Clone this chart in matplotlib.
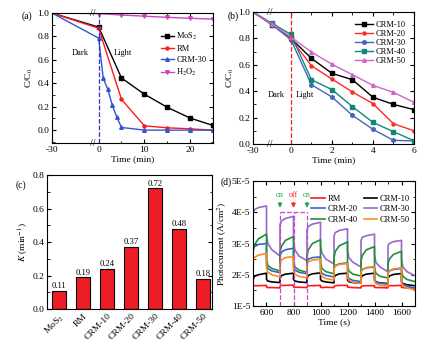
import numpy as np
import matplotlib
matplotlib.use("Agg")
import matplotlib.pyplot as plt
import matplotlib.transforms as mtransforms
from matplotlib.ticker import MultipleLocator, FixedLocator, FuncFormatter

plt.rcParams['font.family'] = ['Liberation Serif', 'DejaVu Serif']
plt.rcParams['mathtext.fontset'] = 'stix'
plt.rcParams['font.size'] = 6.8
plt.rcParams['axes.linewidth'] = 0.8
plt.rcParams['xtick.direction'] = 'in'
plt.rcParams['ytick.direction'] = 'in'
plt.rcParams['xtick.top'] = True
plt.rcParams['ytick.right'] = True
plt.rcParams['xtick.major.size'] = 3
plt.rcParams['ytick.major.size'] = 3
plt.rcParams['xtick.minor.size'] = 1.8
plt.rcParams['ytick.minor.size'] = 1.8
plt.rcParams['xtick.major.pad'] = 2
plt.rcParams['ytick.major.pad'] = 2

# ---- (a) degradation, single catalysts ----
t_a = [-30, 0, 5, 10, 15, 20, 25]
t_a_crm30 = [-30, 0, 1, 2, 3, 4, 5, 10, 15, 20, 25]
mos2_a = [1.0, 0.88, 0.445, 0.307, 0.195, 0.103, 0.04]
rm_a = [1.0, 0.87, 0.263, 0.037, 0.02, 0.011, 0.0]
crm30_a = [1.0, 0.786, 0.443, 0.349, 0.211, 0.109, 0.023, 0.0, 0.0, 0.0, 0.0]
h2o2_a = [1.0, 0.995, 0.983, 0.973, 0.963, 0.955, 0.948]

# ---- (b) degradation, CRM series ----
t_b = [-30, -15, 0, 1, 2, 3, 4, 5, 6]
crm10_b = [1.0, 0.905, 0.80, 0.649, 0.535, 0.487, 0.354, 0.30, 0.26]
crm20_b = [1.0, 0.905, 0.795, 0.593, 0.492, 0.394, 0.306, 0.154, 0.10]
crm30_b = [1.0, 0.905, 0.79, 0.449, 0.356, 0.217, 0.111, 0.028, 0.023]
crm40_b = [1.0, 0.915, 0.83, 0.487, 0.412, 0.283, 0.164, 0.093, 0.025]
crm50_b = [1.0, 0.91, 0.81, 0.697, 0.604, 0.525, 0.444, 0.391, 0.316]

# ---- (c) rate constants ----
samples = ['MoS$_2$', 'RM', 'CRM-10', 'CRM-20', 'CRM-30', 'CRM-40', 'CRM-50']
k_vals = [0.11, 0.19, 0.24, 0.37, 0.72, 0.48, 0.18]

# ---- (d) photocurrent (units of 1E-5 A/cm2) ----
cycle_starts = [500, 700, 900, 1100, 1300, 1500]
offsets = [0, 10, 40, 100, 100, 110, 140, 200]
pc_rm = [[1.63, 1.65, 1.65, 1.66, 1.60, 1.59, 1.59, 1.58],
         [1.64, 1.66, 1.66, 1.67, 1.61, 1.60, 1.60, 1.59],
         [1.63, 1.65, 1.65, 1.66, 1.60, 1.59, 1.60, 1.59],
         [1.63, 1.65, 1.66, 1.66, 1.61, 1.60, 1.59, 1.58],
         [1.62, 1.64, 1.65, 1.65, 1.60, 1.59, 1.59, 1.58],
         [1.63, 1.65, 1.65, 1.66, 1.60, 1.59, 1.58, 1.57]]
pc_crm10 = [[1.82, 1.95, 2.00, 2.05, 1.85, 1.80, 1.77, 1.75],
            [1.88, 1.97, 2.02, 2.05, 1.85, 1.80, 1.77, 1.75],
            [1.90, 1.98, 2.03, 2.06, 1.85, 1.80, 1.77, 1.74],
            [1.90, 1.98, 2.03, 2.05, 1.83, 1.78, 1.75, 1.73],
            [1.90, 1.97, 2.02, 2.05, 1.82, 1.77, 1.74, 1.72],
            [1.88, 1.96, 2.01, 2.04, 1.78, 1.72, 1.68, 1.65]]
pc_crm20 = [[2.80, 2.90, 2.97, 3.00, 2.30, 2.20, 2.12, 2.07],
            [2.60, 2.72, 2.80, 2.85, 2.25, 2.15, 2.08, 2.03],
            [2.42, 2.50, 2.55, 2.57, 2.15, 2.05, 1.98, 1.93],
            [2.22, 2.30, 2.35, 2.38, 1.95, 1.88, 1.82, 1.78],
            [2.10, 2.17, 2.22, 2.25, 1.85, 1.78, 1.73, 1.70],
            [2.05, 2.12, 2.17, 2.20, 1.78, 1.70, 1.63, 1.58]]
pc_crm30 = [[3.95, 4.08, 4.15, 4.20, 3.30, 3.00, 2.80, 2.60],
            [3.60, 3.72, 3.80, 3.87, 3.10, 2.80, 2.60, 2.45],
            [3.45, 3.55, 3.62, 3.68, 2.95, 2.70, 2.50, 2.35],
            [3.25, 3.35, 3.42, 3.47, 2.80, 2.55, 2.40, 2.25],
            [3.10, 3.20, 3.25, 3.30, 2.65, 2.40, 2.25, 2.10],
            [2.92, 3.00, 3.06, 3.10, 2.50, 2.25, 2.10, 1.97]]
pc_crm40 = [[2.75, 2.95, 3.15, 3.30, 2.50, 2.30, 2.20, 2.12],
            [2.70, 2.90, 3.10, 3.22, 2.45, 2.25, 2.15, 2.08],
            [2.60, 2.80, 3.00, 3.12, 2.40, 2.20, 2.10, 2.03],
            [2.55, 2.75, 2.93, 3.05, 2.30, 2.12, 2.02, 1.96],
            [2.45, 2.62, 2.80, 2.90, 2.22, 2.05, 1.95, 1.90],
            [2.35, 2.50, 2.65, 2.75, 2.12, 1.95, 1.85, 1.78]]
pc_crm50 = [[2.40, 2.55, 2.63, 2.68, 2.20, 2.08, 2.00, 1.93],
            [2.35, 2.47, 2.55, 2.58, 2.15, 2.02, 1.95, 1.90],
            [2.33, 2.42, 2.47, 2.50, 2.05, 1.95, 1.88, 1.83],
            [2.18, 2.28, 2.33, 2.36, 1.90, 1.82, 1.76, 1.72],
            [2.08, 2.17, 2.23, 2.27, 1.80, 1.72, 1.67, 1.63],
            [2.05, 2.13, 2.19, 2.22, 1.72, 1.64, 1.58, 1.52]]


def break_scale(left_width):
    k = left_width / 30.0
    fwd = lambda x: np.where(np.asarray(x, float) < 0, np.asarray(x, float) * k, x)
    inv = lambda u: np.where(np.asarray(u, float) < 0, np.asarray(u, float) / k, u)
    return fwd, inv


def add_break(ax, xpos):
    trans = mtransforms.blended_transform_factory(ax.transData, ax.transAxes)
    for yy in (0, 1):
        ax.text(xpos, yy, '//', transform=trans, ha='center', va='center',
                fontsize=7, clip_on=False, zorder=6)


def set_break_ticks(ax, ticks):
    ax.set_xticks(ticks)
    ax.set_xticklabels([str(t) for t in ticks])


fig = plt.figure(figsize=(4.31, 3.41), dpi=100)
leg_kw = dict(frameon=False, fontsize=6, handletextpad=0.3, borderaxespad=0.2)

# ---------------- (a) ----------------
ax1 = fig.add_axes([0.1206, 0.5806, 0.3735, 0.3812])
ax1.set_xscale('function', functions=break_scale(10.2))
skip = slice(1, None)
ax1.plot(t_a, mos2_a, '-s', color='black', ms=2.6, lw=1, markevery=skip, label='MoS$_2$')
ax1.plot(t_a, rm_a, '-o', color='#ff1a1a', ms=2.2, lw=1, markevery=skip, label='RM')
ax1.plot(t_a_crm30, crm30_a, '-^', color='#3355cc', ms=2.6, lw=1, markevery=skip, label='CRM-30')
ax1.plot(t_a, h2o2_a, '-v', color='#cc44bb', ms=2.6, lw=1, markevery=skip, label='H$_2$O$_2$')
ax1.axvline(0, color='#3333cc', ls='--', lw=0.9)
ax1.set_xlim(-30, 25)
ax1.set_ylim(-0.11, 1.0)
set_break_ticks(ax1, [-30, 0, 10, 20])
ax1.xaxis.set_minor_locator(FixedLocator([5, 15, 25]))
ax1.yaxis.set_major_locator(MultipleLocator(0.2))
ax1.yaxis.set_minor_locator(MultipleLocator(0.1))
ax1.yaxis.set_major_formatter(FuncFormatter(lambda v, p: '%.1f' % v))
ax1.set_xlabel('Time (min)', labelpad=1)
ax1.set_ylabel('C/C$_0$', labelpad=2)
ax1.text(-12, 0.66, 'Dark', ha='center', va='center', fontsize=6)
ax1.text(5.3, 0.66, 'Light', ha='center', va='center', fontsize=6)
ax1.legend(loc='upper right', bbox_to_anchor=(0.99, 0.9), handlelength=1.5,
           labelspacing=0.35, **leg_kw)
add_break(ax1, -3.9)

# ---------------- (b) ----------------
ax2 = fig.add_axes([0.587, 0.5777, 0.3735, 0.3871])
ax2.set_xscale('function', functions=break_scale(1.85))
ax2.plot(t_b, crm10_b, '-s', color='black', ms=2.6, lw=1, markevery=skip, label='CRM-10')
ax2.plot(t_b, crm20_b, '-o', color='#ff2a2a', ms=2.2, lw=1, markevery=skip, label='CRM-20')
ax2.plot(t_b, crm30_b, '-h', color='#4466bb', ms=2.8, lw=1, markevery=skip, label='CRM-30')
ax2.plot(t_b, crm40_b, '-s', color='#118877', ms=2.4, lw=1, markevery=skip, label='CRM-40')
ax2.plot(t_b, crm50_b, '-^', color='#cc66cc', ms=2.6, lw=1, markevery=skip, label='CRM-50')
ax2.axvline(0, color='#ee2222', ls='--', lw=0.9)
ax2.set_xlim(-30, 6)
ax2.set_ylim(0, 1.0)
set_break_ticks(ax2, [-30, 0, 2, 4, 6])
ax2.xaxis.set_minor_locator(FixedLocator([1, 3, 5]))
ax2.yaxis.set_major_locator(MultipleLocator(0.2))
ax2.yaxis.set_minor_locator(MultipleLocator(0.1))
ax2.yaxis.set_major_formatter(FuncFormatter(lambda v, p: '%.1f' % v))
ax2.set_xlabel('Time (min)', labelpad=1)
ax2.set_ylabel('C/C$_0$', labelpad=2)
ax2.text(-12, 0.37, 'Dark', ha='center', va='center', fontsize=6)
ax2.text(0.7, 0.37, 'Light', ha='center', va='center', fontsize=6)
ax2.legend(loc='upper right', bbox_to_anchor=(0.98, 0.97), handlelength=2.2,
           labelspacing=0.12, **leg_kw)
add_break(ax2, -16.5)

# ---------------- (c) ----------------
ax3 = fig.add_axes([0.109, 0.0938, 0.3828, 0.393])
xpos = np.arange(len(samples))
ax3.bar(xpos, k_vals, width=0.58, color='#ee1c24', edgecolor='black', lw=0.8)
for xb, kv in zip(xpos, k_vals):
    ax3.text(xb, kv + 0.004, '%.2f' % kv, ha='center', va='bottom', fontsize=6.2)
ax3.set_xlim(-0.5, 6.37)
ax3.set_ylim(0, 0.8)
ax3.set_xticks(xpos)
ax3.set_xticklabels(samples, rotation=45, ha='right', rotation_mode='anchor')
ax3.tick_params(axis='x', which='both', top=False, bottom=False, pad=2)
ax3.yaxis.set_major_locator(MultipleLocator(0.2))
ax3.yaxis.set_minor_locator(MultipleLocator(0.1))
ax3.yaxis.set_major_formatter(FuncFormatter(lambda v, p: '%.1f' % v))
ax3.set_ylabel('$K$ (min$^{-1}$)', labelpad=2)

# ---------------- (d) ----------------
ax4 = fig.add_axes([0.587, 0.1026, 0.3759, 0.3666])
t_d = [t0 + o for t0 in cycle_starts for o in offsets]
series_d = [('RM', pc_rm, '#ff1a1a'), ('CRM-10', pc_crm10, 'black'),
            ('CRM-20', pc_crm20, '#3366cc'), ('CRM-30', pc_crm30, '#9966cc'),
            ('CRM-40', pc_crm40, '#1f8f3a'), ('CRM-50', pc_crm50, '#ff8c1a')]
lines = {}
for name, vals, col in series_d:
    yv = np.array(vals).ravel() * 1e-5
    lines[name], = ax4.plot(t_d, yv, color=col, lw=1.2, label=name)
box_col = '#cc44cc'
for xv in (700, 800, 900):
    ax4.plot([xv, xv], [1e-5, 4e-5], ls='--', color=box_col, lw=0.9)
ax4.plot([700, 900], [4e-5, 4e-5], ls='--', color=box_col, lw=0.9)
for xv, lab, col in ((700, 'on', '#22aa44'), (800, 'off', '#ff2222'), (900, 'on', '#22aa44')):
    ax4.annotate('', xy=(xv, 4.05e-5), xytext=(xv, 4.4e-5),
                 arrowprops=dict(arrowstyle='-|>', color=col, lw=0.9, mutation_scale=6))
    ax4.text(xv, 4.42e-5, lab, color=col, ha='center', va='bottom', fontsize=5.8)
ax4.set_xlim(500, 1700)
ax4.set_ylim(1e-5, 5e-5)
ax4.xaxis.set_major_locator(MultipleLocator(200))
ax4.xaxis.set_minor_locator(MultipleLocator(100))
ax4.yaxis.set_major_locator(MultipleLocator(1e-5))
ax4.yaxis.set_minor_locator(MultipleLocator(0.5e-5))
ax4.yaxis.set_major_formatter(FuncFormatter(lambda v, p: '%dE-5' % round(v * 1e5)))
ax4.set_xlabel('Time (s)', labelpad=1)
ax4.set_ylabel('Photocurrent (A/cm$^2$)', labelpad=2)
order = ['RM', 'CRM-20', 'CRM-40', 'CRM-10', 'CRM-30', 'CRM-50']
ax4.legend([lines[n] for n in order], order, ncol=2, loc='upper right',
           bbox_to_anchor=(1.0, 0.93), handlelength=1.6, columnspacing=0.8,
           labelspacing=0.3, **leg_kw)

# panel letters
fig.text(27 / 431, 1 - 16 / 341, '(a)', ha='center', va='center', fontsize=7)
fig.text(233 / 431, 1 - 16 / 341, '(b)', ha='center', va='center', fontsize=7)
fig.text(21 / 431, 1 - 185 / 341, '(c)', ha='center', va='center', fontsize=7)
fig.text(226 / 431, 1 - 182 / 341, '(d)', ha='center', va='center', fontsize=7)

fig.savefig('out.png', dpi=100)
